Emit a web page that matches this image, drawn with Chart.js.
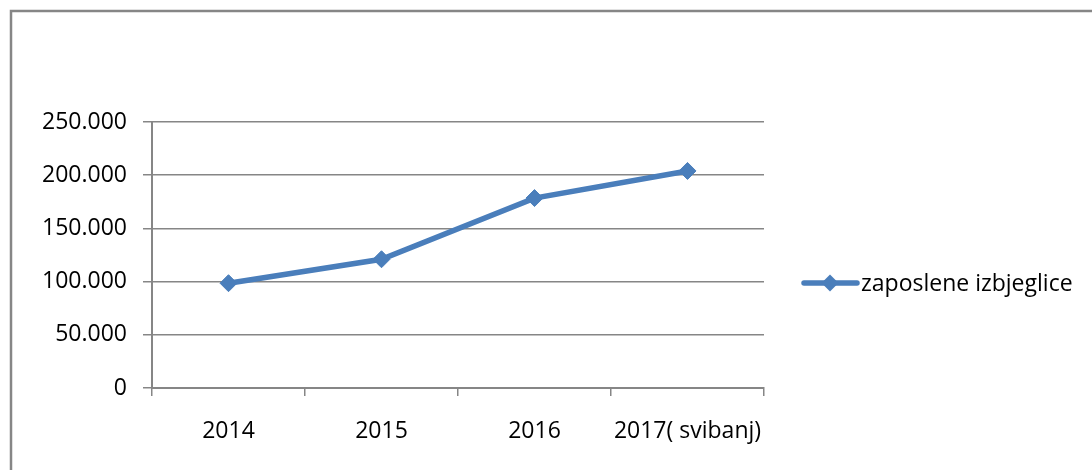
<!DOCTYPE html>
<html>
<head>
<meta charset="utf-8">
<script src="https://cdn.jsdelivr.net/npm/chart.js@4.4.1/dist/chart.umd.min.js"></script>
<style>
body{margin:0;background:#fff}
#wrap{position:relative;width:1092px;height:470px}
</style>
</head>
<body>
<div id="wrap"><canvas id="chart" width="1092" height="470"></canvas></div>
<script>

let years = ["2014","2015","2016","2017( svibanj)"]
let employed = [98500,121000,178500,204000]
let seriesName = "zaposlene izbjeglice"

let blue = "#4a7ebb"
let gray = "#868686"
let font = "'Open Sans', sans-serif"

// frame round the chart plus the legend entry on the right
let decor = {
id:"decor",
beforeDraw(chart){
let ctx = chart.ctx
ctx.save()
ctx.strokeStyle = gray
ctx.lineWidth = 2.5
ctx.strokeRect(11,11,1300,700)
ctx.restore()
},
afterDraw(chart){
let ctx = chart.ctx
let ds = chart.data.datasets[0]
let y = 283
ctx.save()
ctx.strokeStyle = ds.borderColor
ctx.lineWidth = 5.5
ctx.lineCap = "round"
ctx.beginPath()
ctx.moveTo(804,y)
ctx.lineTo(857,y)
ctx.stroke()
ctx.fillStyle = ds.borderColor
ctx.beginPath()
ctx.moveTo(830-8.5,y)
ctx.lineTo(830,y-8.5)
ctx.lineTo(830+8.5,y)
ctx.lineTo(830,y+8.5)
ctx.closePath()
ctx.fill()
ctx.fillStyle = "#000"
ctx.font = "23px " + font
ctx.textBaseline = "middle"
ctx.fillText(ds.label,861,y+1)
ctx.restore()
}
}

let ctx = document.getElementById("chart").getContext("2d")

new Chart(ctx,{
type:"line",
data:{
labels:years,
datasets:[{
label:seriesName,
data:employed,
borderColor:blue,
backgroundColor:blue,
borderWidth:5.5,
pointStyle:"rectRot",
pointRadius:8.5,
pointBorderWidth:1,
fill:false,
tension:0
}]
},
options:{
responsive:false,
animation:false,
layout:{padding:{left:0,top:122,right:328,bottom:0}},
plugins:{legend:{display:false},tooltip:{enabled:false}},
scales:{
x:{
offset:true,
afterFit(scale){scale.height = 82},
grid:{offset:true,drawOnChartArea:false,drawTicks:true,tickLength:8,color:gray,lineWidth:1.5},
border:{color:gray,width:2},
ticks:{color:"#000",font:{family:font,size:23},padding:22,maxRotation:0}
},
y:{
min:0,
max:250000,
afterFit(scale){scale.width = 152},
grid:{color:gray,lineWidth:1.5,tickLength:9},
border:{color:gray,width:2},
ticks:{
stepSize:50000,
color:"#000",
padding:16,
font:{family:font,size:23},
callback:function(v){return v.toLocaleString("de-DE")}
}
}
}
},
plugins:[decor]
})

</script>
</body>
</html>
